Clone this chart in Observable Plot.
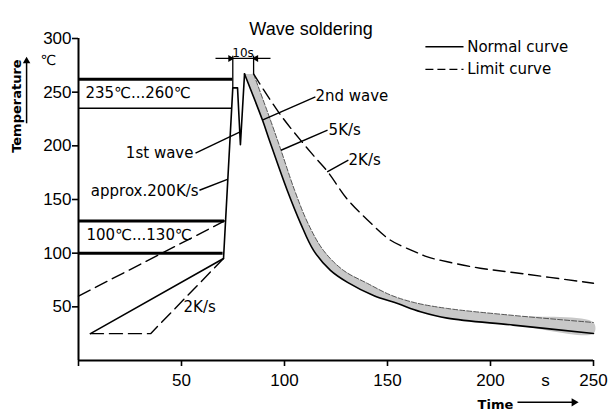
<!DOCTYPE html>
<html><head><meta charset="utf-8">
<script src="https://cdn.jsdelivr.net/npm/d3@7"></script>
<script src="https://cdn.jsdelivr.net/npm/@observablehq/plot@0.6"></script>
<style>body{margin:0;background:#fff} svg{display:block}</style>
</head><body><div id="chart"></div>
<script>
// ---- Normal curve (solid): preheat, steep rise, 1st wave, 2nd wave peak
const preTime = [5.8, 70.4, 74.9, 77.2, 78.6, 80.6];
const preTemp = [25, 95, 254, 254, 201, 267];
// ---- Normal cooling band: lower (solid) edge and upper (5K/s) edge
const lowTime = [80.6, 89.3, 92.7, 101.3, 107.8, 114.1, 122.3, 130.6, 143.2, 154.9, 166, 179, 211, 250];
const lowTemp = [267, 224, 205, 158.6, 127.8, 102.6, 84, 72.8, 60.6, 53, 45.5, 39.5, 33, 25.2];
const highTime = [85.0, 93.2, 98.3, 104.9, 111.4, 118.9, 128.6, 140.3, 151.5, 163, 179, 211, 250];
const highTemp = [267, 223.9, 195.9, 158.6, 127.8, 102.6, 84, 71.8, 61, 54, 48.5, 42, 35.4];
// ---- Limit curve (dashed)
const limitCoolTime = [85.0, 98, 113.6, 120.9, 130.6, 140.3, 151.5, 162.6, 169.4, 179, 195, 211, 250];
const limitCoolTemp = [267, 229, 192, 176, 150, 131, 112, 102, 96.5, 92, 86, 82, 72];
const limitPreLowTime = [5.8, 35, 70.4];
const limitPreLowTemp = [25, 25, 95];
const limitPreHighTime = [0, 70.9];
const limitPreHighTemp = [60, 130];
// ---- Temperature windows
const thickLevels = [262, 130, 100];
const thickEnds = [74.9, 70.9, 70.2];
const thinLevels = [235];
const thinEnds = [74.3];
// ---- Axis ticks
const xTicks = [0, 50, 100, 150, 200, 250];
const yTicks = [50, 100, 150, 200, 250, 300];
// ---- Annotations (data units)
const labelsStart = [
  {t: 3.4, T: 248.8, text: "235℃...260℃"},
  {t: 3.9, T: 116.6, text: "100℃...130℃"},
  {t: 51, T: 49.4, text: "2K/s"},
  {t: 115, T: 246.3, text: "2nd wave"},
  {t: 121.4, T: 214.6, text: "5K/s"},
  {t: 131.1, T: 186.6, text: "2K/s"}
];
const labelsEnd = [
  {t: 55.8, T: 193.1, text: "1st wave"},
  {t: 58.3, T: 157.6, text: "approx.200K/s"}
];
const pointers = [
  {t1: 56.8, T1: 193.1, t2: 78.2, T2: 212.7},
  {t1: 58.7, T1: 158.6, t2: 72.3, T2: 168.8},
  {t1: 115, T1: 245.6, t2: 89.2, T2: 223.9},
  {t1: 120.9, T1: 214.6, t2: 98.3, T2: 195.9},
  {t1: 131, T1: 186.6, t2: 120.7, T2: 175.7}
];
const legendItems = ["Normal curve", "Limit curve"];
const legendT = [292.3, 271.2];
const legendLine = [168.4, 186.9];
const legendTextAt = 188.7;
const dimTimes = [74.9, 85.0];
const dimBottoms = [254, 267];
const dimTop = 284;
const dimLineT = 281.4;
const dimSpan = [66.5, 93.2];
const dimLabel = {t: 79.9, T: 286.8, text: "10s"};
const unitLabel = {t: -14.6, T: 279.9, text: "℃"};
const yTitle = {t: -30.1, T: 237, text: "Temperature"};
const yArrow = {t: -25.2, T1: 221, T2: 279};
const xTitle = {t: 202.4, T: -41, text: "Time"};
const xArrow = {t1: 213.1, t2: 240.5, T: -39};
const xUnit = {t: 226.7, text: "s"};

const zip = (xs, ys) => xs.map((x, i) => ({t: x, T: ys[i]}));
const normalPre = zip(preTime, preTemp);
const normalLow = zip(lowTime, lowTemp);
const normalHigh = zip(highTime, highTemp);
const band = normalLow.concat(normalHigh.slice().reverse());
const limitCool = zip(limitCoolTime, limitCoolTemp);
const limitPreLow = zip(limitPreLowTime, limitPreLowTemp);
const limitPreHigh = zip(limitPreHighTime, limitPreHighTemp);
const thick = thickLevels.map((v, i) => ({T: v, end: thickEnds[i]}));
const thin = thinLevels.map((v, i) => ({T: v, end: thinEnds[i]}));
const dims = dimTimes.map((t, i) => ({t, b: dimBottoms[i]}));
const legend = legendItems.map((s, i) => ({s, T: legendT[i]}));

const ann = "DejaVu Sans";

const chart = Plot.plot({
  width: 616, height: 412,
  marginLeft: 78, marginRight: 23, marginTop: 38, marginBottom: 52,
  x: {domain: [0, 250], axis: null},
  y: {domain: [0, 300], axis: null},
  style: {fontFamily: "Liberation Sans, Arial, sans-serif", background: "white", color: "black", overflow: "visible"},
  marks: [
    Plot.line(band, {x: "t", y: "T", fill: "#c8c8c8", stroke: "none", curve: "catmull-rom"}),
    Plot.line(normalHigh, {x: "t", y: "T", stroke: "#444", strokeWidth: 0.9, strokeDasharray: "5,2", curve: "catmull-rom"}),
    Plot.line(normalLow, {x: "t", y: "T", stroke: "black", strokeWidth: 1.6, curve: "catmull-rom"}),
    Plot.line(normalPre, {x: "t", y: "T", stroke: "black", strokeWidth: 1.6, curve: "linear"}),
    Plot.line(limitCool, {x: "t", y: "T", stroke: "black", strokeWidth: 1.4, strokeDasharray: "12,6", curve: "catmull-rom"}),
    Plot.line(limitPreLow, {x: "t", y: "T", stroke: "black", strokeWidth: 1.4, strokeDasharray: "13,6"}),
    Plot.line(limitPreHigh, {x: "t", y: "T", stroke: "black", strokeWidth: 1.4, strokeDasharray: "13,6"}),
    Plot.ruleY(thick, {y: "T", x1: 0, x2: "end", strokeWidth: 3}),
    Plot.ruleY(thin, {y: "T", x1: 0, x2: "end", strokeWidth: 1.5}),
    // axes
    Plot.ruleX([0], {y1: 0, y2: 300, strokeWidth: 2}),
    Plot.ruleY([0], {x1: 0, x2: 250, strokeWidth: 2}),
    Plot.axisX({ticks: xTicks, tickFormat: d => d === 0 ? "" : d, tickSize: 6, tickPadding: 7, fontSize: 17, label: null, strokeWidth: 1.6}),
    Plot.axisY({ticks: yTicks, tickSize: 6, tickPadding: 1, fontSize: 17, label: null, strokeWidth: 1.6}),
    Plot.text([xUnit], {x: "t", y: () => 0, text: "text", dy: 13, lineAnchor: "top", fontSize: 17}),
    // annotations
    Plot.text(labelsStart, {x: "t", y: "T", text: "text", textAnchor: "start", fontSize: 15, fontFamily: ann}),
    Plot.text(labelsEnd, {x: "t", y: "T", text: "text", textAnchor: "end", fontSize: 15, fontFamily: ann}),
    Plot.link(pointers, {x1: "t1", y1: "T1", x2: "t2", y2: "T2", strokeWidth: 1.4}),
    // 10s dimension
    Plot.link(dims, {x1: "t", x2: "t", y1: () => dimTop, y2: "b", strokeWidth: 1.3}),
    Plot.link([dimSpan], {x1: d => d[0], x2: d => d[1], y1: () => dimLineT, y2: () => dimLineT, strokeWidth: 1.2}),
    Plot.dot(dimTimes.map((t, i) => ({t, r: i === 0 ? 90 : -90})), {x: d => d.t + (d.r > 0 ? -1.2 : 1.2), y: () => dimLineT, symbol: "triangle", r: 2.6, fill: "black", stroke: "none", rotate: "r"}),
    Plot.text([dimLabel], {x: "t", y: "T", text: "text", fontSize: 12, fontFamily: ann}),
    // legend
    Plot.link(legend.slice(0, 1), {x1: () => legendLine[0], x2: () => legendLine[1], y1: "T", y2: "T", strokeWidth: 1.4}),
    Plot.link(legend.slice(1), {x1: () => legendLine[0], x2: () => legendLine[1], y1: "T", y2: "T", strokeWidth: 1.4, strokeDasharray: "8,4"}),
    Plot.text(legend, {x: () => legendTextAt, y: "T", text: "s", textAnchor: "start", fontSize: 15, fontFamily: ann}),
    // axis titles
    Plot.text([unitLabel], {x: "t", y: "T", text: "text", fontSize: 14, fontFamily: ann}),
    Plot.text([yTitle], {x: "t", y: "T", text: "text", rotate: -90, fontSize: 13, fontWeight: "bold", fontFamily: ann}),
    Plot.link([yArrow], {x1: "t", x2: "t", y1: "T1", y2: "T2", strokeWidth: 1.5}),
    Plot.dot([yArrow], {x: "t", y: "T2", symbol: "triangle", r: 2.8, fill: "black", stroke: "none"}),
    Plot.text([xTitle], {x: "t", y: "T", text: "text", fontSize: 13, fontWeight: "bold", fontFamily: ann}),
    Plot.link([xArrow], {x1: "t1", x2: "t2", y1: "T", y2: "T", strokeWidth: 1.5}),
    Plot.dot([xArrow], {x: "t2", y: "T", symbol: "triangle", r: 3, fill: "black", stroke: "none", rotate: 90}),
    // title
    Plot.text(["Wave soldering"], {frameAnchor: "top", dx: -25, dy: -16, fontSize: 18})
  ]
});
document.getElementById("chart").appendChild(chart);
</script>
</body></html>
